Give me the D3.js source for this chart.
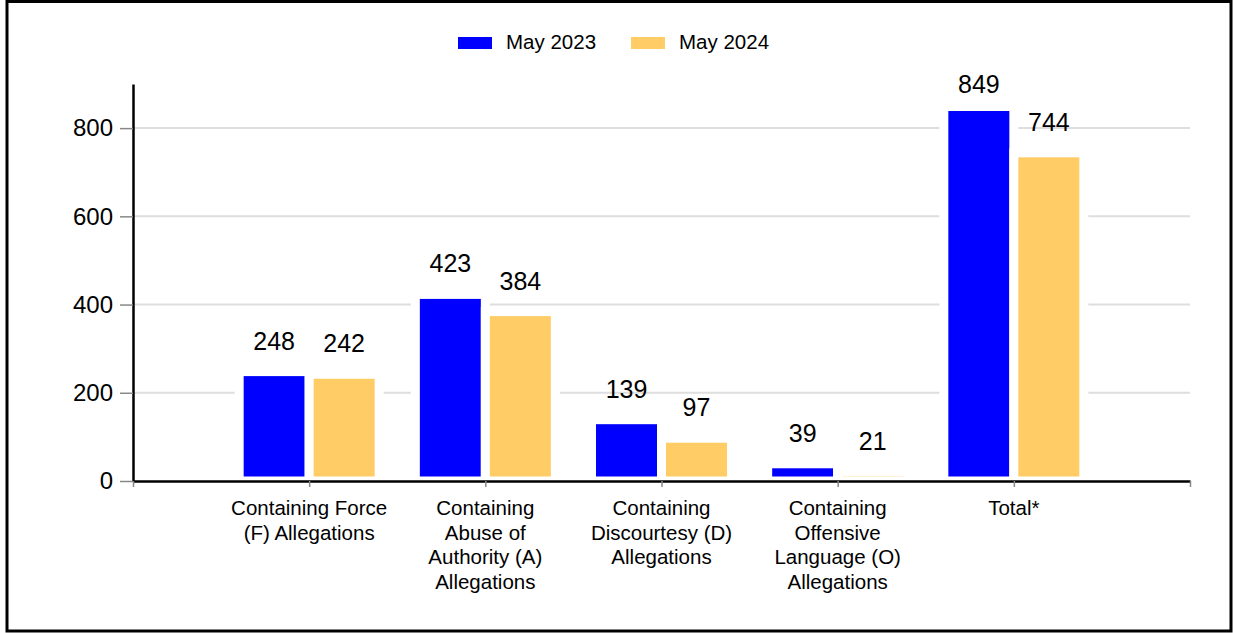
<!DOCTYPE html>
<html lang="en">
<head>
<meta charset="UTF-8">
<title>Allegations May 2023 vs May 2024</title>
<script src="https://d3js.org/d3.v7.min.js"></script>
<style>
  html, body { margin: 0; padding: 0; background: #fff; }
  svg { display: block; font-family: "Liberation Sans", Arial, sans-serif; }
  .grid line { stroke: #dedede; stroke-width: 2px; }
  .axis path { stroke: #000; stroke-width: 2.5px; }
  .axis line { stroke: #888; stroke-width: 1.5px; }
  .axis text { fill: #000; }
</style>
</head>
<body>
<svg width="1233" height="633"></svg>

<script>
// data
const categories = [
  "Containing Force (F) Allegations",
  "Containing Abuse of Authority (A) Allegations",
  "Containing Discourtesy (D) Allegations",
  "Containing Offensive Language (O) Allegations",
  "Total*"
];
const categoryLines = [
  ["Containing Force", "(F) Allegations"],
  ["Containing", "Abuse of", "Authority (A)", "Allegations"],
  ["Containing", "Discourtesy (D)", "Allegations"],
  ["Containing", "Offensive", "Language (O)", "Allegations"],
  ["Total*"]
];
const seriesNames = ["May 2023", "May 2024"];
const may2023 = [248, 423, 139, 39, 849];
const may2024 = [242, 384, 97, 21, 744];
const yTicks = [0, 200, 400, 600, 800];
const colors = ["#0000ff", "#ffcc66"];

const svg = d3.select("svg");

// frame
svg.append("rect")
  .attr("x", 7).attr("y", 1.5)
  .attr("width", 1224).attr("height", 629.5)
  .attr("fill", "none").attr("stroke", "#000").attr("stroke-width", 3);

const plotLeft = 133, plotRight = 1190, plotBottom = 481, plotTop = 84;

const y = d3.scaleLinear().domain([0, 900]).range([plotBottom, plotTop]);
// padded point scale: empty slot at each end
const slots = ["_start", ...categories, "_end"];
const x = d3.scalePoint().domain(slots).range([plotLeft, plotRight]);
const xs = d3.scaleBand().domain(seriesNames).range([-70, 70]);

// gridlines
svg.append("g").attr("class", "grid")
  .selectAll("line")
  .data(yTicks.filter(d => d > 0))
  .join("line")
  .attr("x1", plotLeft).attr("x2", plotRight)
  .attr("y1", d => y(d)).attr("y2", d => y(d));

// bars
const rows = categories.map((c, i) => ({cat: c, values: [may2023[i], may2024[i]]}));
const groups = svg.append("g")
  .selectAll("g")
  .data(rows)
  .join("g")
  .attr("transform", d => `translate(${x(d.cat)},0)`);

groups.selectAll("rect")
  .data(d => d.values.map((v, j) => ({name: seriesNames[j], v, j})))
  .join("rect")
  .attr("x", d => xs(d.name))
  .attr("width", xs.bandwidth())
  .attr("y", d => y(d.v))
  .attr("height", d => y(0) - y(d.v))
  .attr("fill", d => colors[d.j])
  .attr("stroke", "#fff")
  .attr("stroke-width", 9);

groups.selectAll("text")
  .data(d => d.values.map((v, j) => ({name: seriesNames[j], v, j})))
  .join("text")
  .attr("x", d => xs(d.name) + xs.bandwidth() / 2)
  .attr("y", d => Math.max(y(d.v) - 22, 93))
  .attr("text-anchor", "middle")
  .attr("font-size", 25)
  .text(d => d.v);

// y axis
const yAxis = svg.append("g").attr("class", "axis")
  .attr("transform", `translate(${plotLeft},0)`)
  .call(d3.axisLeft(y).tickValues(yTicks).tickSize(13).tickSizeOuter(0).tickPadding(7));
yAxis.selectAll("text").attr("font-size", 24).attr("font-family", "Liberation Sans, Arial, sans-serif");

// x axis
const xAxis = svg.append("g").attr("class", "axis")
  .attr("transform", `translate(0,${plotBottom})`)
  .call(d3.axisBottom(x).tickSize(6).tickSizeOuter(0).tickFormat(() => ""));

const catLabels = svg.append("g")
  .selectAll("text")
  .data(categories)
  .join("text")
  .attr("x", d => x(d))
  .attr("y", 515)
  .attr("text-anchor", "middle")
  .attr("font-size", 20.5);
catLabels.each(function(d, i) {
  d3.select(this).selectAll("tspan")
    .data(categoryLines[i])
    .join("tspan")
    .attr("x", x(d))
    .attr("dy", (t, k) => k === 0 ? 0 : 24.5)
    .text(t => t);
});

// legend
const legendX = [458, 631];
const legend = svg.append("g")
  .selectAll("g")
  .data(seriesNames)
  .join("g")
  .attr("transform", (d, i) => `translate(${legendX[i]},37)`);
legend.append("rect")
  .attr("width", 34).attr("height", 12)
  .attr("fill", (d, i) => colors[i]);
legend.append("text")
  .attr("x", 48).attr("y", 11.5)
  .attr("font-size", 20.5)
  .text(d => d);
</script>
</body>
</html>
